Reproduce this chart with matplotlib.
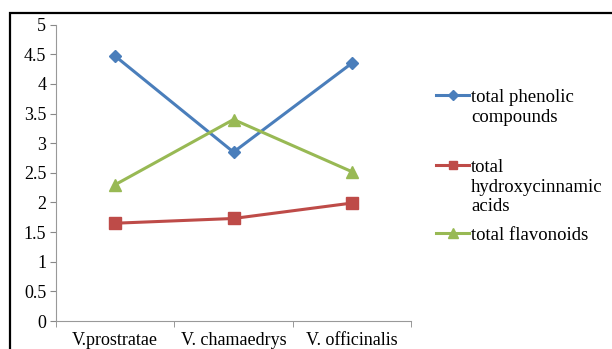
import matplotlib.pyplot as plt
from matplotlib.lines import Line2D
from matplotlib.patches import Rectangle

plt.rcParams['font.family'] = 'serif'
plt.rcParams['font.serif'] = ['Liberation Serif', 'DejaVu Serif']

species = ['V.prostratae', 'V. chamaedrys', 'V. officinalis']
phenolic = [4.47, 2.85, 4.35]
hydroxycinnamic = [1.65, 1.73, 1.99]
flavonoids = [2.30, 3.40, 2.52]

series = [
    ('total phenolic\ncompounds', phenolic, '#4A7EBB', 'D', 6.5),
    ('total\nhydroxycinnamic\nacids', hydroxycinnamic, '#BE4B48', 's', 8),
    ('total flavonoids', flavonoids, '#98B954', '^', 8.5),
]

W, H = 612, 349
fig = plt.figure(figsize=(W / 100, H / 100), dpi=100)
ax = fig.add_axes([56 / W, 28 / H, (411 - 56) / W, (324.3 - 28) / H])

x = range(1, len(species) + 1)
for name, vals, col, mk, ms in series:
    ax.plot(x, vals, color=col, lw=2.2, marker=mk, ms=ms, mec=col, mfc=col)

fs = 13
ax.set_xlim(0.5, 3.5)
ax.set_ylim(0, 5)
ax.set_yticks([i * 0.5 for i in range(11)])
ax.set_yticklabels(['0', '0.5', '1', '1.5', '2', '2.5', '3', '3.5', '4', '4.5', '5'])
ax.set_xticks(list(x))
ax.set_xticklabels(species)
ax.set_xticks([0.5, 1.5, 2.5, 3.5], minor=True)
ax.tick_params(axis='x', which='major', length=0, pad=8, labelsize=fs)
ax.tick_params(axis='x', which='minor', length=4, color='#888888', direction='out')
ax.tick_params(axis='y', length=4, color='#888888', pad=3, labelsize=fs)
for s in ['top', 'right']:
    ax.spines[s].set_visible(False)
for s in ['left', 'bottom']:
    ax.spines[s].set_color('#999999')
    ax.spines[s].set_linewidth(0.8)

# legend drawn by hand so the handle sits on the first text line
rows = [95, 165, 233]
for (name, vals, col, mk, ms), yp in zip(series, rows):
    yf = 1 - yp / H
    fig.add_artist(Line2D([436 / W, 469 / W], [yf, yf], color=col, lw=2.2))
    fig.add_artist(Line2D([452.5 / W], [yf], color=col, marker=mk,
                          ms=ms * 0.8, mec=col, mfc=col))
    fig.text(471 / W, yf + 6 / H, name, fontsize=13.5, va='top', ha='left',
             linespacing=1.2)

# outer chart frame
fig.add_artist(Rectangle((9.5 / W, -0.1), 1, 1 - 13 / H + 0.1, fill=False,
                         ec='black', lw=1.6, transform=fig.transFigure))

fig.savefig('out.png', dpi=100)
